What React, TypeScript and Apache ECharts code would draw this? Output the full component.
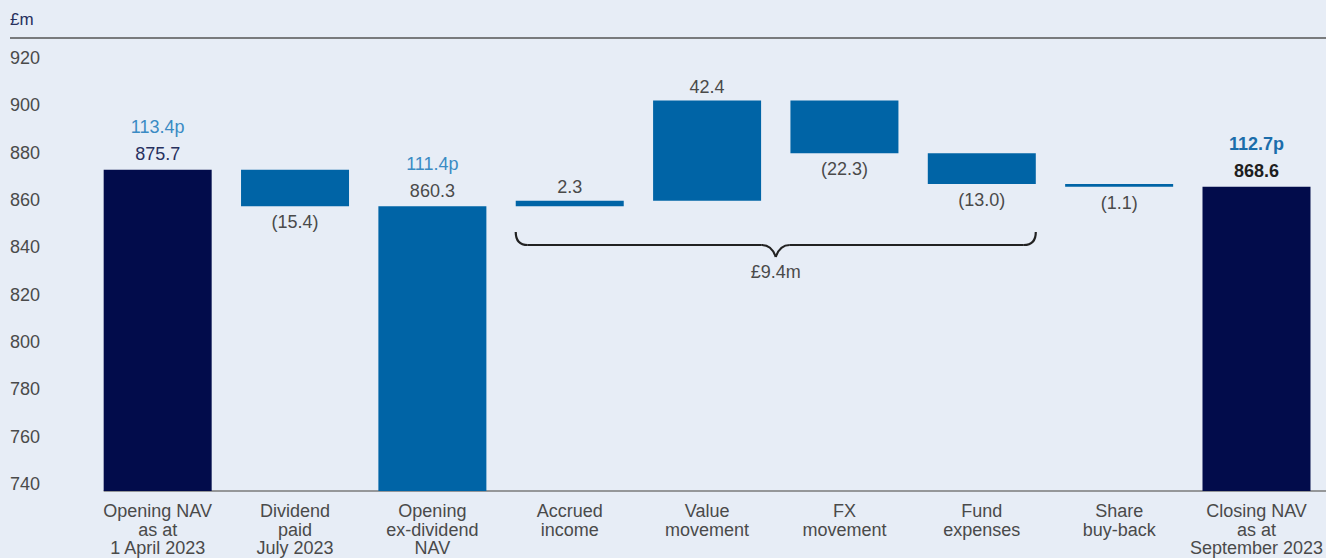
import React, { useEffect, useRef } from "react";
import * as echarts from "echarts";

const categories = [
  "Opening NAV\nas at\n1 April 2023",
  "Dividend\npaid\nJuly 2023",
  "Opening\nex-dividend\nNAV",
  "Accrued\nincome",
  "Value\nmovement",
  "FX\nmovement",
  "Fund\nexpenses",
  "Share\nbuy-back",
  "Closing NAV\nas at\nSeptember 2023",
];
// kind: total bars (from axis) or movements (floating)
const kinds = ["total", "move", "total", "move", "move", "move", "move", "move", "total"];
const totals = [875.7, null, 860.3, null, null, null, null, null, 868.6];
const movements = [null, -15.4, null, 2.3, 42.4, -22.3, -13.0, -1.1, null];
const valueLabels = ["875.7", "(15.4)", "860.3", "2.3", "42.4", "(22.3)", "(13.0)", "(1.1)", "868.6"];
const penceLabels = ["113.4p", "", "111.4p", "", "", "", "", "", "112.7p"];
const yTicks = { min: 740, max: 920, interval: 20 };
const bracketLabel = "£9.4m";
const unitLabel = "£m";

const NAVY = "#020c4b";
const BLUE = "#0064a6";
const BG = "#e7edf6";
const FONT = "'Liberation Sans', Arial, Helvetica, sans-serif";
const FS = 18;
const TXT = "#4a4a4a";

export default function App() {
  const ref = useRef<HTMLDivElement>(null);
  useEffect(() => {
    document.body.style.margin = "0";
    const chart = echarts.init(ref.current!, null, { renderer: "svg" });

    const base: number[] = [];
    const vis: any[] = [];
    let running = 0;
    categories.forEach((_, i) => {
      if (kinds[i] === "total") {
        running = totals[i] as number;
        base.push(0);
        const bold = i === categories.length - 1;
        vis.push({
          value: running,
          itemStyle: { color: i === 2 ? BLUE : NAVY },
          label: {
            show: true,
            position: "top",
            distance: 2,
            formatter: `{p|${penceLabels[i]}}\n{v|${valueLabels[i]}}`,
            rich: {
              p: {
                fontSize: FS,
                lineHeight: 27,
                fontFamily: FONT,
                color: bold ? "#1b6dab" : "#3a8bc4",
                fontWeight: bold ? "bold" : "normal",
              },
              v: {
                fontSize: FS,
                lineHeight: 27,
                fontFamily: FONT,
                color: bold ? "#1e1e1e" : i === 0 ? "#27305e" : TXT,
                fontWeight: bold ? "bold" : "normal",
              },
            },
          },
        });
      } else {
        const d = movements[i] as number;
        const lo = d >= 0 ? running : running + d;
        base.push(lo);
        running += d;
        vis.push({
          value: Math.abs(d),
          itemStyle: { color: BLUE },
          label: {
            show: true,
            position: d >= 0 ? "top" : "bottom",
            distance: d >= 0 ? 4 : 6,
            formatter: valueLabels[i],
            fontSize: FS,
            lineHeight: 20,
            fontFamily: FONT,
            color: TXT,
          },
        });
      }
    });

    chart.setOption({
      animation: false,
      backgroundColor: BG,
      textStyle: { fontFamily: FONT },
      grid: { left: 89, right: 0, top: 65, bottom: 67 },
      xAxis: {
        type: "category",
        data: categories,
        axisLine: { show: false },
        axisTick: { show: false },
        axisLabel: {
          interval: 0,
          fontSize: FS,
          lineHeight: 18.5,
          color: TXT,
          fontFamily: FONT,
          margin: 11,
        },
      },
      yAxis: {
        type: "value",
        min: yTicks.min,
        max: yTicks.max,
        interval: yTicks.interval,
        splitLine: { show: false },
        axisLine: { show: false },
        axisTick: { show: false },
        axisLabel: {
          align: "left",
          margin: 79,
          fontSize: FS,
          lineHeight: 14,
          verticalAlign: "bottom",
          color: TXT,
          fontFamily: FONT,
        },
      },
      series: [
        {
          type: "bar",
          stack: "w",
          data: base,
          barWidth: 108,
          itemStyle: { color: "transparent" },
          silent: true,
        },
        {
          type: "bar",
          stack: "w",
          data: vis,
          barWidth: 108,
          silent: true,
        },
      ],
    });

    // annotations positioned through the chart's own scales
    const half = 54;
    const x0 = (chart.convertToPixel({ xAxisIndex: 0 }, 0) as number) - half;
    const xa = (chart.convertToPixel({ xAxisIndex: 0 }, 3) as number) - half;
    const xb = (chart.convertToPixel({ xAxisIndex: 0 }, 6) as number) + half;
    const yAxisPx = chart.convertToPixel({ yAxisIndex: 0 }, yTicks.min) as number;
    const yTop = 232;
    const yMid = 245;
    const yTip = 257;
    const xm = (xa + xb) / 2;
    const r = 12;
    const stroke = { stroke: "#222222", lineWidth: 2.2, fill: "none" };

    chart.setOption({
      graphic: [
        { type: "text", left: 10, top: 11, style: { text: unitLabel, fontSize: 17, fill: "#27305e", fontFamily: FONT } },
        { type: "line", shape: { x1: 10, y1: 38, x2: 1326, y2: 38 }, style: { stroke: "#555555", lineWidth: 1.5 } },
        { type: "line", shape: { x1: x0, y1: yAxisPx, x2: 1326, y2: yAxisPx }, style: { stroke: "#7a7a7a", lineWidth: 1.5 } },
        { type: "bezierCurve", shape: { x1: xa, y1: yTop, cpx1: xa, cpy1: yMid, x2: xa + r, y2: yMid }, style: stroke },
        { type: "line", shape: { x1: xa + r, y1: yMid, x2: xm - 14, y2: yMid }, style: stroke },
        { type: "bezierCurve", shape: { x1: xm - 14, y1: yMid, cpx1: xm - 4, cpy1: yMid, x2: xm, y2: yTip }, style: stroke },
        { type: "bezierCurve", shape: { x1: xm, y1: yTip, cpx1: xm + 4, cpy1: yMid, x2: xm + 14, y2: yMid }, style: stroke },
        { type: "line", shape: { x1: xm + 14, y1: yMid, x2: xb - r, y2: yMid }, style: stroke },
        { type: "bezierCurve", shape: { x1: xb - r, y1: yMid, cpx1: xb, cpy1: yMid, x2: xb, y2: yTop }, style: stroke },
        {
          type: "text",
          x: xm,
          y: 272,
          style: { text: bracketLabel, fontSize: FS, fill: TXT, fontFamily: FONT, align: "center", verticalAlign: "middle" },
        },
      ],
    });

    return () => chart.dispose();
  }, []);
  return <div ref={ref} style={{ position: "fixed", left: 0, top: 0, width: 1326, height: 558 }} />;
}
